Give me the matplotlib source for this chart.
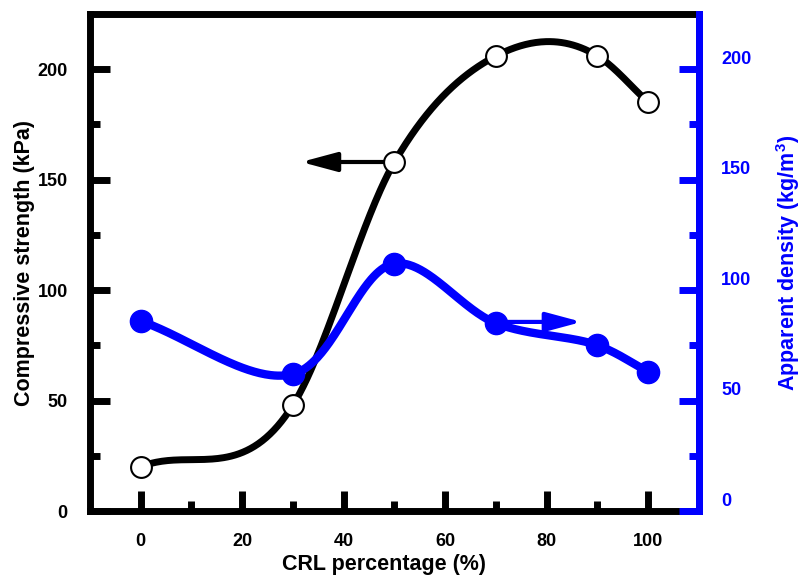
import numpy as np
import matplotlib
matplotlib.use("Agg")
import matplotlib.pyplot as plt
from matplotlib.patches import ArrowStyle
from matplotlib.transforms import ScaledTranslation

# ---- data ----
crl = [0, 30, 50, 70, 90, 100]
strength = [20, 48, 158, 206, 206, 185]
density = [86, 62, 112, 85, 75, 63]
x_ticks = [0, 20, 40, 60, 80, 100]
y_ticks = [0, 50, 100, 150, 200]


def bessel_curve(x, y, n=80):
    """Piecewise cubic Hermite with three-point (Bessel) tangents."""
    x = np.asarray(x, float)
    y = np.asarray(y, float)
    h = np.diff(x)
    d = np.diff(y) / h
    m = np.zeros(len(x))
    m[0], m[-1] = d[0], d[-1]
    for i in range(1, len(x) - 1):
        m[i] = (h[i] * d[i - 1] + h[i - 1] * d[i]) / (h[i - 1] + h[i])
    xs, ys = [], []
    t = np.linspace(0, 1, n)
    h00 = 2 * t**3 - 3 * t**2 + 1
    h10 = t**3 - 2 * t**2 + t
    h01 = -2 * t**3 + 3 * t**2
    h11 = t**3 - t**2
    for i in range(len(x) - 1):
        xs.append(x[i] + h[i] * t)
        ys.append(h00 * y[i] + h10 * h[i] * m[i] + h01 * y[i + 1] + h11 * h[i] * m[i + 1])
    return np.concatenate(xs), np.concatenate(ys)


def centripetal(px, py, alpha=0.5, n=80):
    """Centripetal Catmull-Rom curve through display-space points."""
    P = np.column_stack([px, py]).astype(float)
    P = np.vstack([2 * P[0] - P[1], P, 2 * P[-1] - P[-2]])
    out = []
    for i in range(1, len(P) - 2):
        p0, p1, p2, p3 = P[i - 1], P[i], P[i + 1], P[i + 2]
        t0 = 0.0
        t1 = t0 + np.linalg.norm(p1 - p0) ** alpha
        t2 = t1 + np.linalg.norm(p2 - p1) ** alpha
        t3 = t2 + np.linalg.norm(p3 - p2) ** alpha
        t = np.linspace(t1, t2, n)[:, None]
        A1 = (t1 - t) / (t1 - t0) * p0 + (t - t0) / (t1 - t0) * p1
        A2 = (t2 - t) / (t2 - t1) * p1 + (t - t1) / (t2 - t1) * p2
        A3 = (t3 - t) / (t3 - t2) * p2 + (t - t2) / (t3 - t2) * p3
        B1 = (t2 - t) / (t2 - t0) * A1 + (t - t0) / (t2 - t0) * A2
        B2 = (t3 - t) / (t3 - t1) * A2 + (t - t1) / (t3 - t1) * A3
        out.append((t2 - t) / (t2 - t1) * B1 + (t - t1) / (t2 - t1) * B2)
    return np.vstack(out)


plt.rcParams["font.family"] = ["Liberation Sans", "DejaVu Sans"]
plt.rcParams["font.weight"] = "bold"
plt.rcParams["mathtext.fontset"] = "custom"
plt.rcParams["mathtext.bf"] = "Liberation Sans:bold"
plt.rcParams["mathtext.rm"] = "Liberation Sans:bold"

BLUE = "#0000ff"
LABEL_FS = 15.5

fig = plt.figure(figsize=(8.03, 5.77), dpi=100)
ax = fig.add_axes([90 / 803, 1 - 511 / 577, (699 - 90) / 803, (511 - 14) / 577])
ax2 = ax.twinx()

for a in (ax, ax2):
    a.set_xlim(-10, 110)
    a.set_ylim(0, 225)
    a.set_yticks(y_ticks)
    a.set_yticks(np.arange(25, 225, 50), minor=True)
ax.set_xticks(x_ticks)
ax.set_xticks(np.arange(10, 110, 20), minor=True)

head = ArrowStyle("-|>", head_length=1.08, head_width=0.29)

# compressive strength (left axis)
bx, by = bessel_curve(crl, strength)
ax.plot(bx, by, color="black", lw=5, zorder=2, solid_capstyle="round")
ax.annotate("", xy=(31.6, 158), xytext=(50, 158),
            arrowprops=dict(arrowstyle=head, mutation_scale=20, color="black", lw=3,
                            shrinkA=0, shrinkB=0), zorder=2)
ax.plot(crl, strength, "o", ms=15, mfc="white", mec="black", mew=1.5, zorder=3)

# apparent density (right axis)
disp = ax2.transData.transform(np.column_stack([crl, density]))
curve = ax2.transData.inverted().transform(centripetal(disp[:, 0], disp[:, 1]))
ax2.plot(curve[:, 0], curve[:, 1], color=BLUE, lw=6, zorder=2, solid_capstyle="round")
ax2.annotate("", xy=(86.9, 85.6), xytext=(70, 85.6),
             arrowprops=dict(arrowstyle=head, mutation_scale=20, color=BLUE, lw=3,
                             shrinkA=0, shrinkB=0), zorder=2)
ax2.plot(crl, density, "o", ms=16, mfc=BLUE, mec=BLUE, zorder=3)

for s in ax.spines.values():
    s.set_linewidth(5)
    s.set_color("black")
    s.set_capstyle("projecting")
for name, s in ax2.spines.items():
    s.set_linewidth(5)
    s.set_capstyle("projecting")
    if name == "right":
        s.set_color(BLUE)
    else:
        s.set_visible(False)

ax.tick_params(axis="both", which="major", direction="in", length=14.5, width=5,
               labelsize=13, pad=16, colors="black")
ax.tick_params(axis="both", which="minor", direction="in", length=7.5, width=5,
               colors="black")
ax.tick_params(axis="x", top=False, which="both")
ax.tick_params(axis="y", right=False, which="both")

ax2.tick_params(axis="y", which="major", direction="in", length=14.5, width=5,
                labelsize=13, pad=16, colors=BLUE)
ax2.tick_params(axis="y", which="minor", direction="in", length=7.5, width=5,
                colors=BLUE)
ax2.tick_params(axis="y", left=False, which="both")

for lbl in ax.get_xticklabels() + ax.get_yticklabels():
    lbl.set_fontweight("bold")
for t in ax2.yaxis.get_major_ticks():
    t.label2.set_fontweight("bold")
    t.label2.set_transform(t.label2.get_transform()
                           + ScaledTranslation(0, 12 / 100, fig.dpi_scale_trans))

ax.set_xlabel("CRL percentage (%)", fontsize=LABEL_FS, fontweight="bold", labelpad=3)
ax.xaxis.label.set_x(0.482)
ax.set_ylabel("Compressive strength (kPa)", fontsize=LABEL_FS, fontweight="bold",
              labelpad=2)
ax2.set_ylabel(r"Apparent density (kg/m$^{\mathbf{3}}$)", fontsize=LABEL_FS,
               fontweight="bold", color=BLUE, labelpad=16)

fig.savefig("out.png", dpi=100)
